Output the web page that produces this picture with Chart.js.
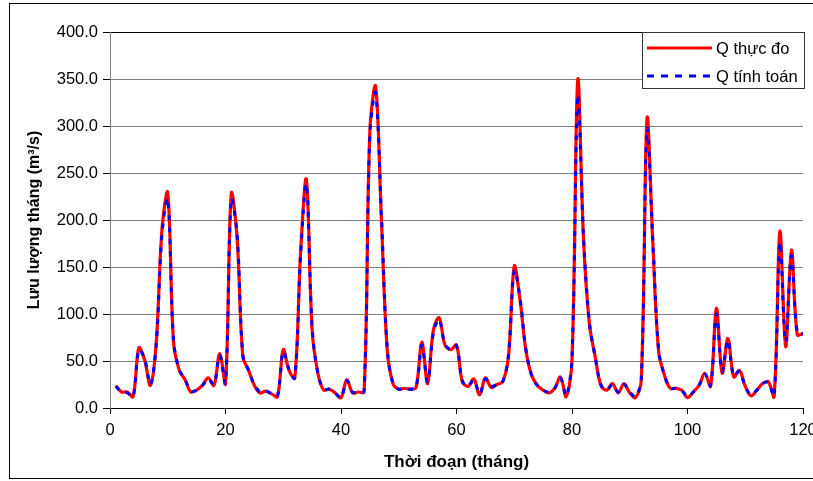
<!DOCTYPE html>
<html>
<head>
<meta charset="utf-8">
<script src="https://cdn.jsdelivr.net/npm/chart.js@4.4.0/dist/chart.umd.min.js"></script>
<style>
    html, body { margin: 0; padding: 0; background: #fff; }
    #wrap { width: 813px; height: 481px; }
</style>
</head>
<body>
<div id="wrap"><canvas id="chart" width="813" height="481"></canvas></div>
<script>
// Q thực đo (measured), months 1..120
const MEASURED = [
    24, 17, 17, 12, 64, 51, 24, 69, 190, 229,
    70, 40, 30, 17, 19, 24, 32, 24, 58, 26,
    228, 182, 55, 40, 24, 16, 18, 15, 12, 62,
    40, 32, 165, 243, 83, 37, 19, 20, 16, 11,
    30, 16, 17, 17, 295, 342, 200, 62, 26, 20,
    21, 20, 22, 70, 26, 83, 96, 67, 62, 67,
    28, 23, 31, 14, 32, 22, 25, 28, 55, 151,
    115, 62, 35, 24, 19, 16, 21, 33, 12, 51,
    349, 179, 90, 55, 24, 19, 26, 16, 26, 16,
    11, 30, 308, 175, 60, 35, 21, 21, 19, 11,
    17, 24, 37, 23, 106, 37, 74, 33, 40, 23,
    13, 19, 26, 28, 12, 188, 65, 168, 78, 79,
];

// Q tính toán (computed)
const COMPUTED = [
    23, 17, 16, 12, 62, 52, 25, 67, 185, 222,
    72, 41, 30, 18, 19, 24, 31, 25, 56, 27,
    222, 185, 57, 40, 25, 17, 18, 15, 13, 60,
    41, 32, 162, 238, 86, 37, 20, 20, 16, 11,
    29, 17, 17, 18, 290, 335, 205, 64, 26, 20,
    21, 20, 22, 67, 28, 80, 94, 68, 62, 66,
    29, 23, 30, 15, 31, 23, 25, 28, 56, 146,
    117, 63, 35, 24, 19, 17, 21, 32, 13, 53,
    332, 182, 92, 55, 25, 19, 25, 17, 25, 17,
    12, 31, 296, 178, 62, 35, 21, 21, 19, 12,
    17, 24, 36, 24, 100, 39, 72, 34, 39, 23,
    14, 19, 26, 27, 13, 176, 70, 162, 80, 79,
];

const MONTHS = MEASURED.map((_, i) => i + 1);

const Y_TICKS = [0, 50, 100, 150, 200, 250, 300, 350, 400];
const X_TICKS = [0, 20, 40, 60, 80, 100, 120];

const SERIES_NAMES = ['Q thực đo', 'Q tính toán'];
const X_TITLE = 'Thời đoạn (tháng)';
const Y_TITLE = 'Lưu lượng tháng (m³/s)';

const FONT = 'Arial, "Liberation Sans", sans-serif';

const PLOT = { left: 110, right: 803, top: 32, bottom: 408 };

function toPoints(values) {
    return values.map((v, i) => ({ x: MONTHS[i], y: v }));
}

// outer frame and legend box drawn on top, like the Excel original
const decorPlugin = {
    id: 'decor',
    afterDraw(chart) {
        const ctx = chart.ctx;
        ctx.save();
        ctx.strokeStyle = '#000';
        ctx.lineWidth = 1;
        ctx.strokeRect(9.5, 3.5, 830, 475);

        const box = { x: 642.5, y: 32.5, w: 162, h: 56 };
        ctx.fillStyle = '#fff';
        ctx.fillRect(box.x, box.y, box.w, box.h);
        ctx.strokeStyle = '#333';
        ctx.strokeRect(box.x, box.y, box.w, box.h);

        const rows = [
            { y: 48, color: '#ff0000', dash: [] },
            { y: 76, color: '#0000ff', dash: [7, 7] },
        ];
        rows.forEach((row, i) => {
            ctx.beginPath();
            ctx.setLineDash(row.dash);
            ctx.strokeStyle = row.color;
            ctx.lineWidth = 3;
            ctx.moveTo(647, row.y);
            ctx.lineTo(712, row.y);
            ctx.stroke();
            ctx.setLineDash([]);
            ctx.fillStyle = '#000';
            ctx.font = '16.5px ' + FONT;
            ctx.textBaseline = 'middle';
            ctx.fillText(SERIES_NAMES[i], 716, row.y + 1);
        });
        ctx.restore();
    },
};

function initChart() {
    const canvas = document.getElementById('chart');

    return new Chart(canvas, {
        type: 'line',
        data: {
            datasets: [
                {
                    label: SERIES_NAMES[0],
                    data: toPoints(MEASURED),
                    borderColor: '#ff0000',
                    borderWidth: 3.2,
                    pointRadius: 0,
                    tension: 0.35,
                    order: 2,
                },
                {
                    label: SERIES_NAMES[1],
                    data: toPoints(COMPUTED),
                    borderColor: '#0000ff',
                    borderWidth: 3,
                    borderDash: [5, 7],
                    pointRadius: 0,
                    tension: 0.35,
                    order: 1,
                },
            ],
        },
        options: {
            responsive: false,
            animation: false,
            layout: { padding: { left: 0, right: 813 - PLOT.right, top: PLOT.top, bottom: 0 } },
            plugins: {
                legend: { display: false },
                tooltip: { enabled: false },
            },
            scales: {
                x: {
                    type: 'linear',
                    min: 0,
                    max: 120,
                    afterBuildTicks: (scale) => {
                        scale.ticks = X_TICKS.map((v) => ({ value: v }));
                    },
                    afterFit: (scale) => {
                        scale.height = 481 - PLOT.bottom;
                        scale.paddingLeft = 0;
                        scale.paddingRight = 0;
                    },
                    grid: {
                        drawOnChartArea: false,
                        tickLength: 6,
                        tickColor: '#000',
                    },
                    border: { color: '#000', width: 1 },
                    ticks: {
                        color: '#000',
                        padding: 7,
                        maxRotation: 0,
                        autoSkip: false,
                        font: { family: FONT, size: 16.5 },
                    },
                    title: {
                        display: true,
                        text: X_TITLE,
                        color: '#000',
                        padding: { top: 0, bottom: 8 },
                        font: { family: FONT, size: 17, weight: 'bold' },
                    },
                },
                y: {
                    min: 0,
                    max: 400,
                    afterBuildTicks: (scale) => {
                        scale.ticks = Y_TICKS.map((v) => ({ value: v }));
                    },
                    afterFit: (scale) => {
                        scale.width = PLOT.left;
                    },
                    grid: {
                        color: (c) => (c.tick && c.tick.value === 400 ? '#000' : '#808080'),
                        lineWidth: 1,
                        tickLength: 7,
                        tickColor: '#000',
                    },
                    border: { color: '#808080', width: 1 },
                    ticks: {
                        color: '#000',
                        padding: 5,
                        autoSkip: false,
                        font: { family: FONT, size: 16.5 },
                        callback: (value) => Number(value).toFixed(1),
                    },
                    title: {
                        display: true,
                        text: Y_TITLE,
                        color: '#000',
                        padding: { top: 25, bottom: 0 },
                        font: { family: FONT, size: 16, weight: 'bold' },
                    },
                },
            },
        },
        plugins: [decorPlugin],
    });
}

initChart();
</script>
</body>
</html>
